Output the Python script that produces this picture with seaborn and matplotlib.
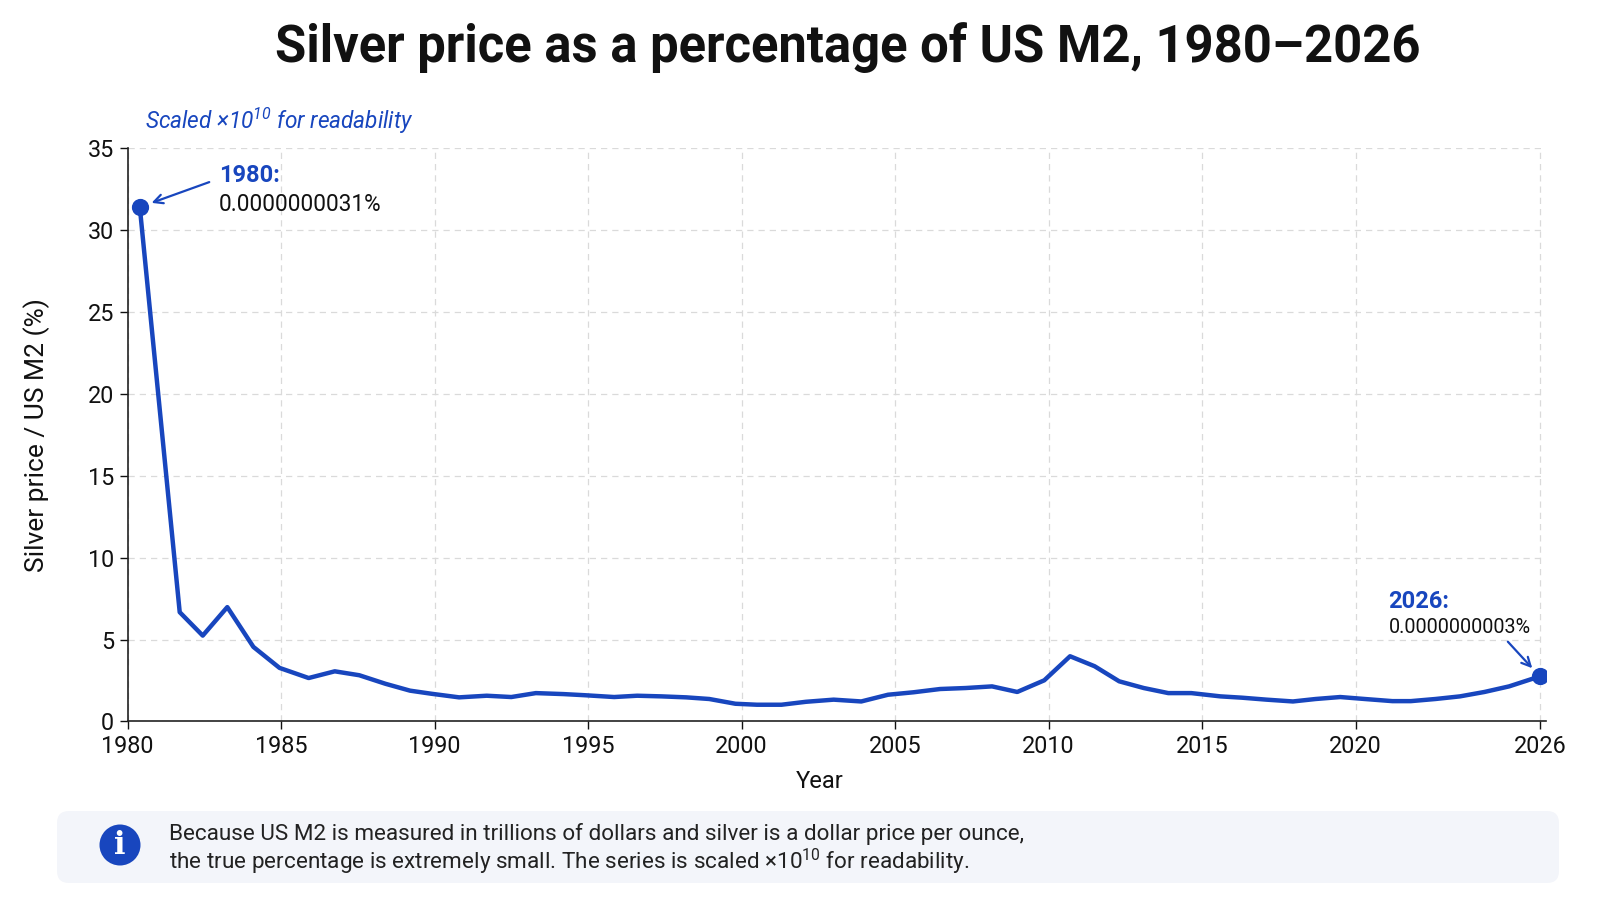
import matplotlib
matplotlib.use("Agg")
import matplotlib.pyplot as plt
import seaborn as sns
import pandas as pd
from matplotlib.patches import FancyBboxPatch, Circle

# ---- data (scaled x1e10) ----
years = [1980.4, 1981.7, 1982.45, 1983.25, 1984.1, 1984.95, 1985.9, 1986.75, 1987.55,
         1988.4, 1989.2, 1989.9, 1990.8, 1991.7, 1992.5, 1993.3, 1994.2, 1994.9,
         1995.85, 1996.6, 1997.4, 1998.2, 1998.95, 1999.8, 2000.5, 2001.3, 2002.1,
         2003.0, 2003.9, 2004.77, 2005.6, 2006.47, 2007.3, 2008.16, 2008.98, 2009.86,
         2010.7, 2011.5, 2012.3, 2013.1, 2013.9, 2014.65, 2015.6, 2016.3, 2017.1,
         2017.96, 2018.7, 2019.5, 2020.3, 2021.2, 2021.8, 2022.6, 2023.4, 2024.2,
         2025.0, 2026.0]
values = [31.4, 6.67, 5.24, 6.98, 4.55, 3.27, 2.65, 3.06, 2.82,
          2.30, 1.88, 1.69, 1.47, 1.57, 1.49, 1.73, 1.67, 1.60,
          1.49, 1.57, 1.53, 1.47, 1.37, 1.08, 1.02, 1.02, 1.20,
          1.33, 1.22, 1.63, 1.78, 1.98, 2.04, 2.14, 1.80, 2.51,
          3.98, 3.37, 2.45, 2.04, 1.73, 1.73, 1.53, 1.45, 1.33,
          1.22, 1.37, 1.49, 1.37, 1.24, 1.24, 1.37, 1.53, 1.80,
          2.14, 2.75]
x_ticks = [1980, 1985, 1990, 1995, 2000, 2005, 2010, 2015, 2020, 2026]
y_ticks = [0, 5, 10, 15, 20, 25, 30, 35]
start_label = "0.0000000031%"
end_label = "0.0000000003%"

BLUE = "#1846BE"

sns.set_theme(style="white")
plt.rcParams["font.family"] = ["Roboto", "DejaVu Sans"]
plt.rcParams["mathtext.default"] = "regular"

df = pd.DataFrame({"Year": years, "Value": values})

fig = plt.figure(figsize=(16, 9), dpi=100)
fig.patch.set_facecolor("white")

# background overlay for info box (pixel coords)
bg = fig.add_axes([0, 0, 1, 1], zorder=0)
bg.set_xlim(0, 1600)
bg.set_ylim(0, 900)
bg.axis("off")
box = FancyBboxPatch((57, 17), 1502, 72, boxstyle="round,pad=0,rounding_size=12",
                     fc="#F3F5FA", ec="none")
bg.add_patch(box)
bg.add_patch(Circle((120, 55), 20.5, fc=BLUE, ec="none"))
bg.text(120, 54.5, "i", ha="center", va="center", color="white",
        fontsize=22, fontweight="bold", family=["DejaVu Serif"])
bg.text(169, 66, "Because US M2 is measured in trillions of dollars and silver is a dollar price per ounce,",
        ha="left", va="center", fontsize=16.2, color="#222222")
bg.text(169, 38, "the true percentage is extremely small. The series is scaled \u00d710$^{10}$ for readability.",
        ha="left", va="center", fontsize=16.2, color="#222222")

ax = fig.add_axes([0.0797, 0.1984, 0.8865, 0.637], zorder=1)
ax.set_facecolor("none")

sns.lineplot(data=df, x="Year", y="Value", ax=ax, color=BLUE, linewidth=3.2, zorder=3)
ax.scatter([years[0], years[-1]], [values[0], values[-1]], s=130, color=BLUE, zorder=4)

ax.set_xlim(1980, 2026.2)
ax.set_ylim(0, 35)
ax.set_xticks(x_ticks)
ax.set_yticks(y_ticks)
ax.tick_params(axis="both", labelsize=16.8, colors="#111111", direction="out",
               length=6, width=1, left=True, bottom=True)
ax.grid(True, linestyle=(0, (5, 4)), color="#DADADA", linewidth=0.9)
for s in ["top", "right"]:
    ax.spines[s].set_visible(False)
for s in ["left", "bottom"]:
    ax.spines[s].set_color("#222222")
    ax.spines[s].set_linewidth(1.2)

ax.set_xlabel("Year", fontsize=17, color="#111111")
ax.set_ylabel("Silver price / US M2 (%)", fontsize=19, color="#111111")
ax.xaxis.set_label_coords(0.488, -0.085)
ax.yaxis.set_label_coords(-0.055, 0.5)

# annotations
ax.annotate("1980:", xy=(years[0], values[0]), xytext=(57, 23), textcoords="offset points",
            ha="left", va="center", fontsize=17, fontweight="bold", color=BLUE)
ax.annotate(start_label, xy=(years[0], values[0]), xytext=(57, 2), textcoords="offset points",
            ha="left", va="center", fontsize=16.3, color="#111111")
ax.annotate("", xy=(years[0], values[0]), xytext=(50, 18), textcoords="offset points",
            arrowprops=dict(arrowstyle="->", color=BLUE, lw=1.6, shrinkA=0, shrinkB=9,
                            mutation_scale=16))

ax.annotate("2026:", xy=(years[-1], values[-1]), xytext=(-109, 54), textcoords="offset points",
            ha="left", va="center", fontsize=17, fontweight="bold", color=BLUE)
ax.annotate(end_label, xy=(years[-1], values[-1]), xytext=(-109, 35), textcoords="offset points",
            ha="left", va="center", fontsize=14.2, color="#111111")
ax.annotate("", xy=(years[-1], values[-1]), xytext=(-23, 25), textcoords="offset points",
            arrowprops=dict(arrowstyle="->", color=BLUE, lw=1.6, shrinkA=0, shrinkB=8,
                            mutation_scale=16))

fig.text(0.530, 0.947, "Silver price as a percentage of US M2, 1980\u20132026",
         ha="center", va="center", fontsize=36.5, fontweight="bold", color="#111111")
fig.text(0.0906, 0.866, "Scaled \u00d710$^{10}$ for readability", ha="left", va="center",
         fontsize=16.3, style="italic", color=BLUE)

fig.savefig("out.png", dpi=100)
